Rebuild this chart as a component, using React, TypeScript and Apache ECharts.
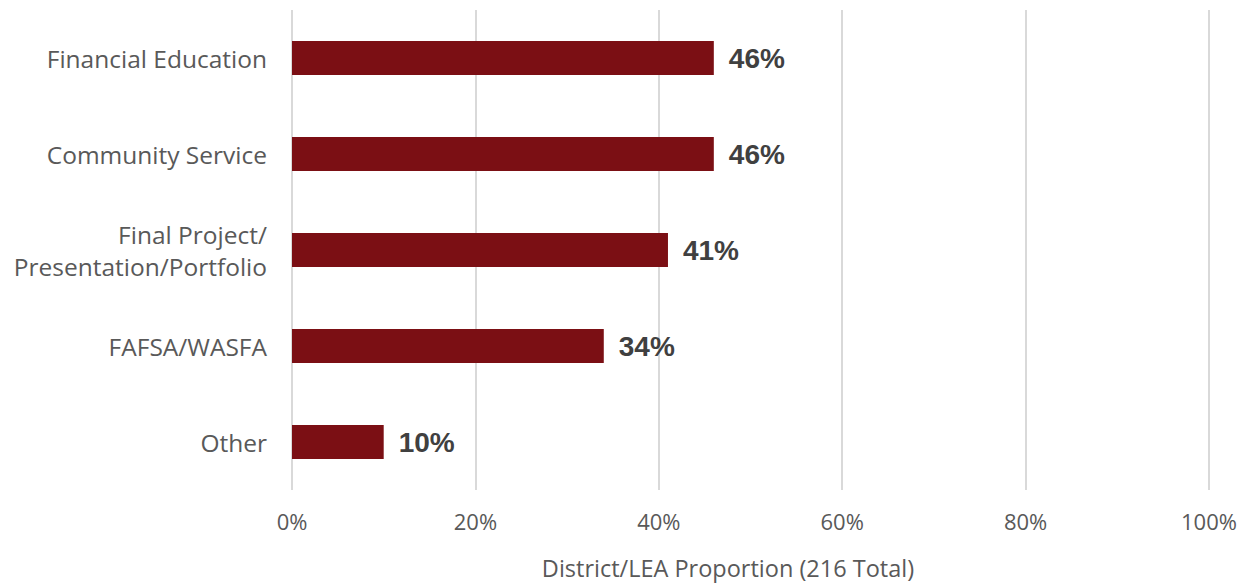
import React, { useEffect, useRef } from "react";
import * as echarts from "echarts";

const categories = [
  "Financial Education",
  "Community Service",
  "Final Project/\nPresentation/Portfolio",
  "FAFSA/WASFA",
  "Other",
];
const values = [46, 46, 41, 34, 10];
const xTicks = [0, 20, 40, 60, 80, 100];
const axisTitle = "District/LEA Proportion (216 Total)";

export default function App() {
  const ref = useRef<HTMLDivElement>(null);
  useEffect(() => {
    if (!ref.current) return;
    const chart = echarts.init(ref.current, undefined, { renderer: "svg" });
    chart.setOption({
      animation: false,
      backgroundColor: "#ffffff",
      grid: { left: 292, right: 43, top: 10, bottom: 94, containLabel: false },
      xAxis: {
        type: "value",
        min: xTicks[0],
        max: xTicks[xTicks.length - 1],
        interval: 20,
        axisLine: { show: false },
        axisTick: { show: false },
        splitLine: { show: true, lineStyle: { color: "#D9D9D9", width: 2 } },
        axisLabel: {
          formatter: "{value}%",
          color: "#595959",
          fontSize: 22,
          fontFamily: "Open Sans",
          margin: 20,
        },
      },
      yAxis: {
        type: "category",
        data: categories,
        inverse: true,
        axisLine: { show: false },
        axisTick: { show: false },
        axisLabel: {
          color: "#595959",
          fontSize: 24.5,
          fontFamily: "Open Sans",
          margin: 25,
          lineHeight: 32,
          align: "right",
        },
      },
      graphic: [
        {
          type: "text",
          x: 728,
          y: 568,
          style: {
            text: axisTitle,
            fill: "#595959",
            fontSize: 23.5,
            fontFamily: "Open Sans",
            align: "center",
            verticalAlign: "middle",
          },
        },
      ],
      series: [
        {
          type: "bar",
          data: values,
          barWidth: 34,
          itemStyle: { color: "#7B0F14" },
          label: {
            show: true,
            position: "right",
            distance: 15,
            formatter: "{c}%",
            color: "#404040",
            fontSize: 28,
            fontWeight: "bold",
            fontFamily: "Liberation Sans",
          },
        },
      ],
    });
    return () => chart.dispose();
  }, []);
  return <div ref={ref} style={{ width: 1252, height: 584, position: "absolute", left: 0, top: 0 }} />;
}
